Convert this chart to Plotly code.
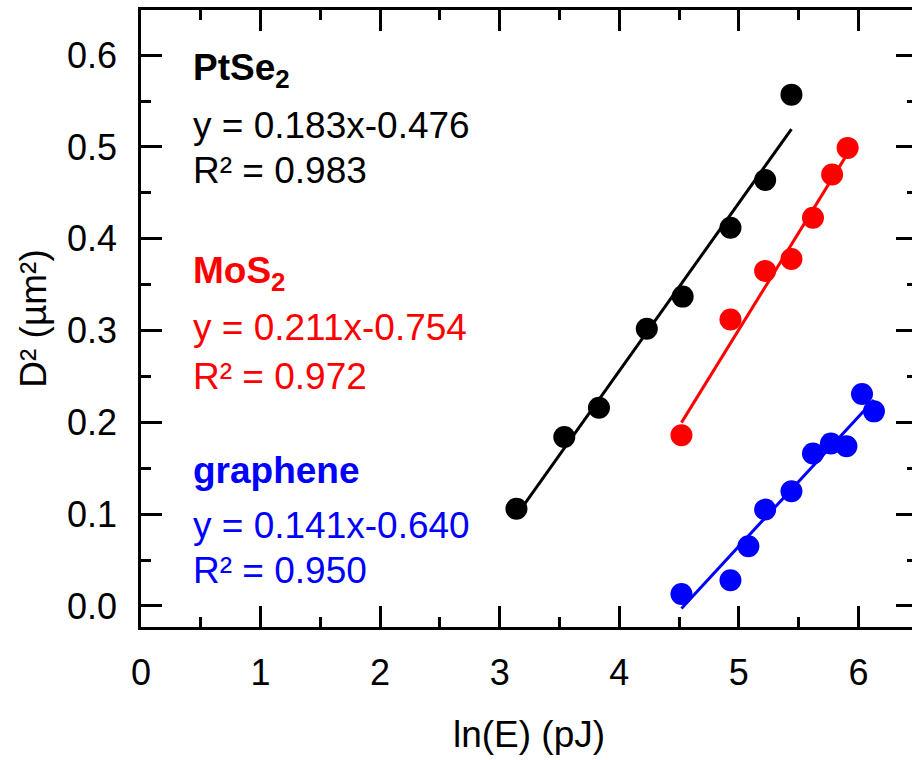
import numpy as np
import plotly.graph_objects as go

# ---- data ----
pt_x = [3.14, 3.54, 3.83, 4.23, 4.53, 4.93, 5.22, 5.44]
pt_y = [0.106, 0.184, 0.216, 0.302, 0.337, 0.412, 0.464, 0.557]

mo_x = [4.52, 4.93, 5.22, 5.44, 5.62, 5.78, 5.91]
mo_y = [0.186, 0.312, 0.365, 0.378, 0.423, 0.470, 0.499]

gr_x = [4.52, 4.93, 5.08, 5.22, 5.44, 5.62, 5.77, 5.90, 6.03, 6.13]
gr_y = [0.013, 0.028, 0.065, 0.105, 0.125, 0.166, 0.177, 0.174, 0.231, 0.212]

series_names = ["PtSe<sub>2</sub>", "MoS<sub>2</sub>", "graphene"]
slopes = [0.183, 0.211, 0.141]
intercepts = [-0.476, -0.754, -0.640]
r2_values = [0.983, 0.972, 0.950]
colors = ["#000000", "#ff0000", "#0000ff"]

x_ticks = [0, 1, 2, 3, 4, 5, 6]
y_ticks = [0.0, 0.1, 0.2, 0.3, 0.4, 0.5, 0.6]

FONT = "Liberation Sans, Arial, sans-serif"

fig = go.Figure()
for xs, ys, k, b, c in zip([pt_x, mo_x, gr_x], [pt_y, mo_y, gr_y], slopes, intercepts, colors):
    xs = np.array(xs)
    fx = np.array([xs.min(), xs.max()])
    fig.add_trace(go.Scatter(x=xs, y=ys, mode="markers",
                             marker=dict(size=22, color=c, line=dict(width=0)),
                             showlegend=False, hoverinfo="skip"))
    fig.add_trace(go.Scatter(x=fx, y=k * fx + b, mode="lines",
                             line=dict(color=c, width=3), showlegend=False, hoverinfo="skip"))

# annotation blocks (title, equation, R²)
block_y = [(0.584, 0.5234, 0.4741), (0.363, 0.3034, 0.2500), (0.1476, 0.0877, 0.0387)]
for name, k, b, r2, c, (y1, y2, y3) in zip(series_names, slopes, intercepts, r2_values, colors, block_y):
    texts = [f"<b>{name}</b>", f"y = {k:.3f}x-{abs(b):.3f}", f"R² = {r2:.3f}"]
    for t, yy in zip(texts, (y1, y2, y3)):
        fig.add_annotation(x=0.42, y=yy, xref="x", yref="y", text=t, showarrow=False,
                           xanchor="left", yanchor="middle",
                           font=dict(family=FONT, size=37, color=c))

axis_common = dict(showline=True, linecolor="black", linewidth=2.5, mirror="ticks",
                   ticks="inside", tickcolor="black", tickwidth=2.5, ticklen=21,
                   showgrid=False, zeroline=False,
                   tickfont=dict(family=FONT, size=36, color="black"),
                   title_font=dict(family=FONT, size=37, color="black"))

fig.update_xaxes(range=[0, 6.49], tickvals=x_ticks, ticktext=[str(v) for v in x_ticks],
                 minor=dict(ticks="inside", ticklen=10, tickwidth=2.5, tickcolor="black", dtick=0.5, tick0=0),
                 title_text="ln(E) (pJ)", title_standoff=30, ticklabelstandoff=12, **axis_common)
fig.update_yaxes(range=[-0.0229, 0.6492], tickvals=y_ticks, ticktext=[f"{v:.1f}" for v in y_ticks],
                 minor=dict(ticks="inside", ticklen=10, tickwidth=2.5, tickcolor="black", dtick=0.05, tick0=0),
                 title_text="D² (µm²)", title_standoff=10, ticklabelstandoff=14, **axis_common)

fig.update_layout(width=920, height=760, margin=dict(l=141, r=0, t=10, b=133),
                  plot_bgcolor="white", paper_bgcolor="white",
                  font=dict(family=FONT, color="black"))

fig.write_html("out.html",
               post_script="document.documentElement.style.overflow='hidden';"
                           "document.body.style.overflow='hidden';document.body.style.margin='0';")
